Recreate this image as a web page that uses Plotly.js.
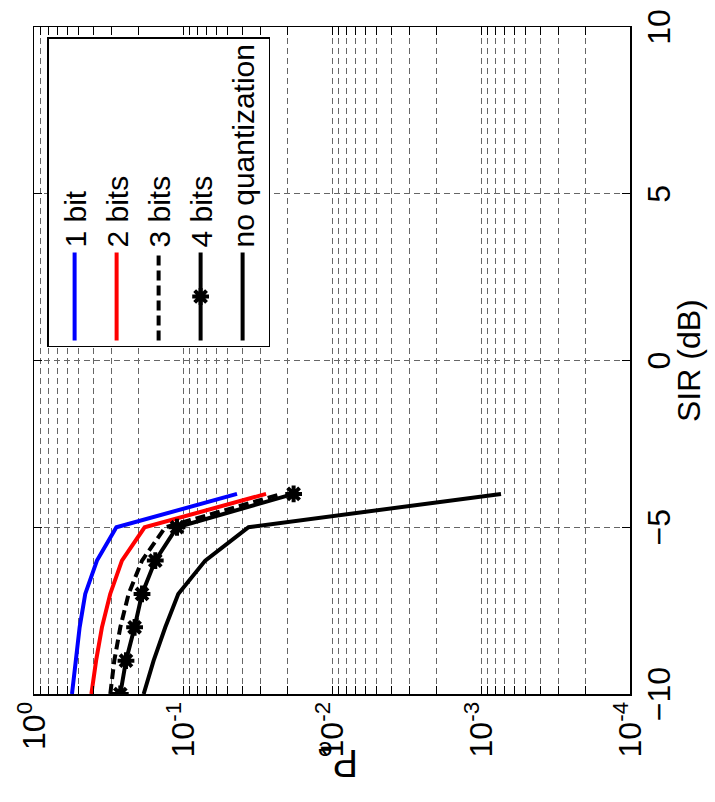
<!DOCTYPE html>
<html>
<head>
<meta charset="utf-8">
<script src="https://cdn.plot.ly/plotly-3.0.1.min.js"></script>
<style>
  html, body { margin: 0; padding: 0; width: 715px; height: 802px; overflow: hidden; background: #fff; }
  #plot { position: absolute; left: 0; top: 0; width: 802px; height: 715px;
          transform-origin: 0 0; transform: translate(0px, 802px) rotate(-90deg); }
</style>
</head>
<body>
<div id="plot"></div>
<script>
// SIR (dB) values
const sir = [-10, -9, -8, -7, -6, -5, -4];
// Probability of error for each quantization
const pe1bit   = [0.556, 0.526, 0.494, 0.453, 0.378, 0.280, 0.0434];
const pe2bits  = [0.412, 0.383, 0.350, 0.308, 0.257, 0.181, 0.0277];
const pe3bits  = [0.3076, 0.2891, 0.2635, 0.2318, 0.1884, 0.1315, 0.0217];
const pe4bits  = [0.2635, 0.2414, 0.2113, 0.1884, 0.1535, 0.1097, 0.0181];
const peNoQuant = [0.1837, 0.1575, 0.1315, 0.1076, 0.0709, 0.0363, 0.000734];

const seriesNames = ['1 bit', '2 bits', '3 bits', '4 bits', 'no quantization'];
const xTitle = 'SIR (dB)';
const yTitle = 'P<sub>e</sub>';

const yTickVals = [1e-4, 1e-3, 1e-2, 1e-1, 1];
const yTickText = ['10<sup>-4</sup>', '10<sup>-3</sup>', '10<sup>-2</sup>', '10<sup>-1</sup>', '10<sup>0</sup>'];
const xTickVals = [-10, -5, 0, 5, 10];

const minorVals = [];
for (let e = -4; e < 0; e++) {
  for (let m = 2; m <= 9; m++) minorVals.push(m * Math.pow(10, e));
}

const font = 'Liberation Sans, Arial, Helvetica, sans-serif';
const gridColor = '#666';
const gridDash = '6px,4px';
const lw = 4;

const traces = [
  { x: sir, y: pe1bit, name: seriesNames[0], mode: 'lines',
    line: { color: '#0000ff', width: lw } },
  { x: sir, y: pe2bits, name: seriesNames[1], mode: 'lines',
    line: { color: '#ff0000', width: lw } },
  { x: sir, y: pe3bits, name: seriesNames[2], mode: 'lines',
    line: { color: '#000000', width: lw, dash: '10px,5px' } },
  { x: sir, y: pe4bits, name: seriesNames[3], mode: 'lines+markers',
    line: { color: '#000000', width: lw },
    marker: { symbol: 'asterisk-open', size: 14, color: '#000', line: { color: '#000', width: 4 } } },
  { x: sir, y: peNoQuant, name: seriesNames[4], mode: 'lines',
    line: { color: '#000000', width: lw } }
];

const layout = {
  width: 802, height: 715,
  margin: { l: 108, r: 27, t: 34, b: 85 },
  paper_bgcolor: '#fff', plot_bgcolor: '#fff',
  font: { family: font, size: 32, color: '#000' },
  showlegend: true,
  legend: {
    x: 0.985, y: 0.978, xanchor: 'right', yanchor: 'top',
    bgcolor: '#fff', bordercolor: '#000', borderwidth: 1.5,
    font: { family: font, size: 30, color: '#000' },
    itemwidth: 88, tracegroupgap: 0
  },
  xaxis: {
    range: [-10, 10], tickmode: 'array', tickvals: xTickVals,
    ticks: 'inside', ticklen: 8, tickwidth: 1, tickcolor: '#000',
    showline: true, linecolor: '#000', linewidth: 1.5, mirror: 'allticks',
    showgrid: true, gridcolor: gridColor, griddash: gridDash, gridwidth: 1,
    zeroline: false, automargin: false,
    tickfont: { family: font, size: 32, color: '#000' }
  },
  yaxis: {
    type: 'log', range: [-4, 0], tickmode: 'array', tickvals: yTickVals, ticktext: yTickText,
    ticks: 'inside', ticklen: 8, tickwidth: 1, tickcolor: '#000',
    showline: true, linecolor: '#000', linewidth: 1.5, mirror: 'allticks',
    showgrid: true, gridcolor: gridColor, griddash: gridDash, gridwidth: 1,
    zeroline: false, automargin: false,
    tickfont: { family: font, size: 32, color: '#000' },
    minor: { tickmode: 'array', tickvals: minorVals, ticks: 'inside', ticklen: 8, tickcolor: '#000',
             showgrid: true, gridcolor: gridColor, griddash: gridDash, gridwidth: 1 }
  },
  annotations: [
    { text: xTitle, xref: 'paper', yref: 'paper', x: 0.5, y: 0, xanchor: 'center', yanchor: 'top',
      yshift: -39, showarrow: false, font: { family: font, size: 32, color: '#000' } },
    { text: yTitle, xref: 'paper', yref: 'paper', x: 0, y: 0.49, xanchor: 'center', yanchor: 'middle',
      xshift: -66, textangle: -90, showarrow: false, font: { family: font, size: 38, color: '#000' } }
  ]
};

Plotly.newPlot('plot', traces, layout, { displayModeBar: false, staticPlot: true });
</script>
</body>
</html>
